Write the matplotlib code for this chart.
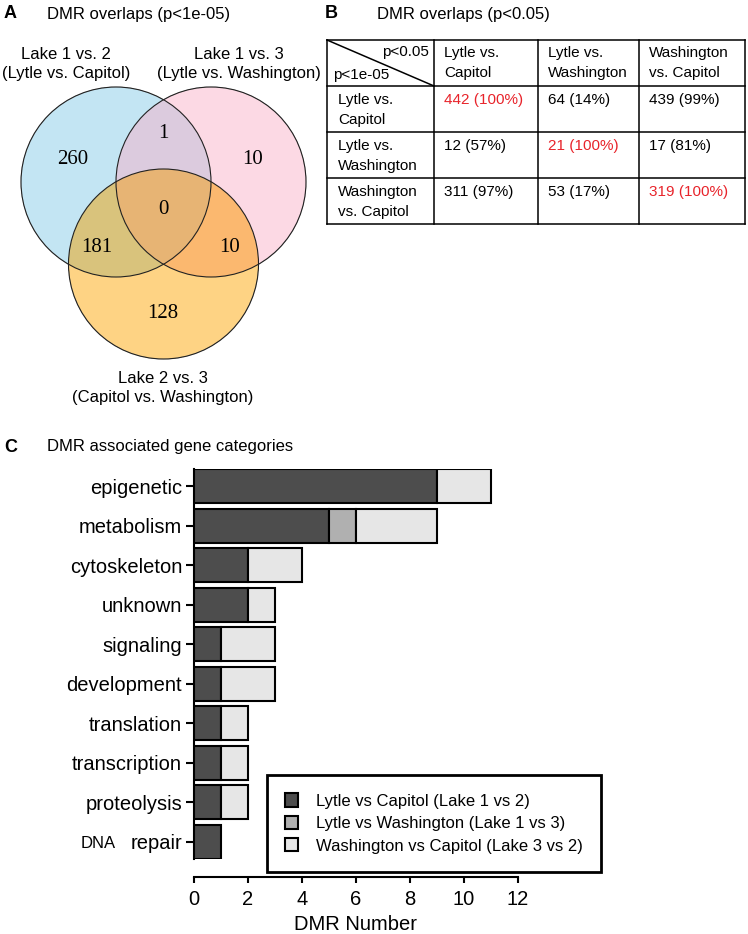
import numpy as np
import matplotlib
matplotlib.use('Agg')
import matplotlib.pyplot as plt
from matplotlib.patches import Circle, Patch
from matplotlib.colors import to_rgba

plt.rcParams['font.family'] = ['Liberation Sans', 'DejaVu Sans']

# ── Panel A: DMR overlaps (p<1e-05) ──
venn_sets = ['Lake 1 vs. 2\n(Lytle vs. Capitol)',
             'Lake 1 vs. 3\n(Lytle vs. Washington)',
             'Lake 2 vs. 3\n(Capitol vs. Washington)']
venn_regions = ['100', '010', '001', '110', '101', '011', '111']
venn_counts = [260, 10, 128, 1, 181, 10, 0]

# ── Panel B: DMR overlaps (p<0.05) ──
comparisons = ['Lytle vs.\nCapitol', 'Lytle vs.\nWashington', 'Washington\nvs. Capitol']
overlap_n = [[442, 64, 439],
             [12, 21, 17],
             [311, 53, 319]]
overlap_pct = [[100, 14, 99],
               [57, 100, 81],
               [97, 17, 100]]

# ── Panel C: DMR associated gene categories ──
categories = ['epigenetic', 'metabolism', 'cytoskeleton', 'unknown', 'signaling',
              'development', 'translation', 'transcription', 'proteolysis', 'DNA repair']
lytle_capitol = [9, 5, 2, 2, 1, 1, 1, 1, 1, 1]
lytle_washington = [0, 1, 0, 0, 0, 0, 0, 0, 0, 0]
washington_capitol = [2, 3, 2, 1, 2, 2, 1, 1, 1, 0]
series_names = ['Lytle vs Capitol (Lake 1 vs 2)',
                'Lytle vs Washington (Lake 1 vs 3)',
                'Washington vs Capitol (Lake 3 vs 2)']

# layout (pixels)
W, H = 748, 934
R = 95
CENTERS = [(116, 182), (211, 182), (163.5, 264)]
REGION_COLORS = {'100': '#c3e5f3', '010': '#fdd9e4', '001': '#fed484',
                 '110': '#dccbde', '101': '#d9c37c', '011': '#fbb86f',
                 '111': '#e8b575'}
REGION_XY = {'100': (73, 159), '010': (253, 159), '001': (163, 313),
             '110': (163, 133), '101': (97, 248), '011': (230, 248),
             '111': (163, 210)}
SET_LABEL_XY = [(66, 64), (239, 64), (163, 388)]
BAR_COLORS = ['#4d4d4d', '#b0b0b0', '#e6e6e6']
RED = '#e8242b'

fig = plt.figure(figsize=(W / 100, H / 100), dpi=100)
ax0 = fig.add_axes([0, 0, 1, 1])
ax0.set_xlim(0, W)
ax0.set_ylim(H, 0)
ax0.axis('off')

# panel letters + titles
for letter, lx, ly, title, tx in [('A', 4, 14, 'DMR overlaps (p<1e-05)', 47),
                                  ('B', 325, 14, 'DMR overlaps (p<0.05)', 377),
                                  ('C', 4, 447, 'DMR associated gene categories', 47)]:
    ax0.text(lx, ly, letter, fontsize=13, fontweight='bold', va='center', ha='left')
    ax0.text(tx, ly, title, fontsize=12, va='center', ha='left')

# ── Venn ──
gx = np.arange(15, 315, 0.5) + 0.25
gy = np.arange(80, 365, 0.5) + 0.25
X, Y = np.meshgrid(gx, gy)
inside = [(X - cx) ** 2 + (Y - cy) ** 2 <= R ** 2 for cx, cy in CENTERS]
img = np.zeros(X.shape + (4,))
for key in venn_regions:
    m = np.ones(X.shape, bool)
    for bit, ins in zip(key, inside):
        m &= ins if bit == '1' else ~ins
    img[m] = to_rgba(REGION_COLORS[key])
ax0.imshow(img, extent=(15, 315, 365, 80), origin='upper', aspect='auto',
           interpolation='antialiased')
for cx, cy in CENTERS:
    ax0.add_patch(Circle((cx, cy), R, fill=False, ec='#222222', lw=0.8))
for key, n in zip(venn_regions, venn_counts):
    x, y = REGION_XY[key]
    ax0.text(x, y, str(n), fontsize=15, family='Liberation Serif',
             ha='center', va='center')
for lab, (x, y) in zip(venn_sets, SET_LABEL_XY):
    ax0.text(x, y, lab, fontsize=12, ha='center', va='center', linespacing=1.35)

# ── Table ──
col_x = [327, 434, 538, 639, 745]
row_y = [40, 86, 132, 178, 224]
for yy in row_y:
    ax0.plot([col_x[0], col_x[-1]], [yy, yy], color='black', lw=1.1)
for xx in col_x:
    ax0.plot([xx, xx], [row_y[0], row_y[-1]], color='black', lw=1.1)
ax0.plot([col_x[0], col_x[1]], [row_y[0], row_y[1]], color='black', lw=1.1)
ax0.text(429, 52, 'p<0.05', fontsize=11, ha='right', va='center')
ax0.text(333, 75, 'p<1e-05', fontsize=11, ha='left', va='center')


def cell_text(x, y, s, color='black'):
    for i, line in enumerate(s.split('\n')):
        ax0.text(x, y + 20 * i, line, fontsize=11, ha='left', va='center', color=color)


for j, name in enumerate(comparisons):
    cell_text(col_x[j + 1] + 10, row_y[0] + 13, name)
    cell_text(col_x[0] + 11, row_y[j + 1] + 14, name)
for i in range(3):
    for j in range(3):
        cell_text(col_x[j + 1] + 10, row_y[i + 1] + 14,
                  f'{overlap_n[i][j]} ({overlap_pct[i][j]}%)',
                  color=RED if i == j else 'black')

# ── Bar chart ──
axc = fig.add_axes([194 / W, 1 - 859 / H, 324 / W, 390 / H])
ypos = np.arange(len(categories))
left = np.zeros(len(categories))
for vals, col in zip([lytle_capitol, lytle_washington, washington_capitol], BAR_COLORS):
    vals = np.array(vals, float)
    m = vals > 0
    axc.barh(ypos[m], vals[m], left=left[m], height=0.86, color=col,
             edgecolor='black', linewidth=1.5, zorder=3)
    left += vals

axc.set_xlim(0, 12)
axc.set_ylim(len(categories) - 1 + 0.43, -0.43)
axc.set_xticks(range(0, 13, 2))
axc.set_yticks(ypos)
axc.set_yticklabels([c.replace('DNA ', '') for c in categories])
axc.set_xlabel('DMR Number', fontsize=14.5, labelpad=5)
for s in ['top', 'right']:
    axc.spines[s].set_visible(False)
axc.spines['left'].set_linewidth(1.5)
axc.spines['bottom'].set_linewidth(1.5)
axc.spines['bottom'].set_position(('outward', 13))
axc.tick_params(axis='y', direction='out', length=5.5, width=1.5, pad=3, labelsize=14.5)
axc.tick_params(axis='x', direction='out', length=4, width=1.5, pad=5, labelsize=14.5)
# "DNA" is set smaller in front of "repair"
ax0.text(116, 847.5, 'DNA', fontsize=12, ha='right', va='baseline')

handles = [Patch(facecolor=c, edgecolor='black', linewidth=1.5, label=n)
           for c, n in zip(BAR_COLORS, series_names)]
leg = axc.legend(handles=handles, loc='upper left', bbox_to_anchor=(267 / W, 1 - 775 / H),
                 bbox_transform=fig.transFigure, borderaxespad=0, fontsize=12,
                 fancybox=False, frameon=True, edgecolor='black', framealpha=1,
                 handlelength=0.75, handleheight=0.85, handletextpad=1.1,
                 labelspacing=0.42, borderpad=1.1)
leg.get_frame().set_linewidth(2)

fig.savefig('out.png', dpi=100)
